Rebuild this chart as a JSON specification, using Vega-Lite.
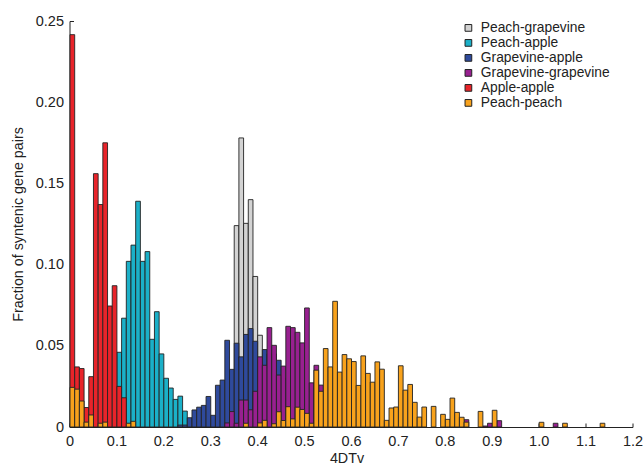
{
  "$schema": "https://vega.github.io/schema/vega-lite/v6.json",
  "width": 563,
  "height": 406,
  "autosize": {"type": "none"},
  "padding": {"left": 69.5, "top": 21, "right": 11.5, "bottom": 39},
  "config": {
    "view": {"stroke": null},
    "font": "Liberation Sans",
    "axis": {"grid": false, "domainColor": "#222", "tickColor": "#222", "labelColor": "#222", "titleColor": "#222", "labelFontSize": 14.5, "titleFontSize": 14.3, "titleFontWeight": "normal", "labelFont": "Liberation Sans", "titleFont": "Liberation Sans"},
    "legend": {"labelFont": "Liberation Sans"}
  },
  "data": {"values": [
    {"s":"Peach-grapevine","a":0.34,"b":0.35,"v":0.030},
    {"s":"Peach-grapevine","a":0.35,"b":0.36,"v":0.124},
    {"s":"Peach-grapevine","a":0.36,"b":0.37,"v":0.178},
    {"s":"Peach-grapevine","a":0.37,"b":0.38,"v":0.1254},
    {"s":"Peach-grapevine","a":0.38,"b":0.39,"v":0.140},
    {"s":"Peach-grapevine","a":0.39,"b":0.40,"v":0.0927},
    {"s":"Peach-grapevine","a":0.40,"b":0.41,"v":0.0565},
    {"s":"Peach-grapevine","a":0.41,"b":0.42,"v":0.030},

    {"s":"Peach-apple","a":0.10,"b":0.11,"v":0.046},
    {"s":"Peach-apple","a":0.11,"b":0.12,"v":0.067},
    {"s":"Peach-apple","a":0.12,"b":0.13,"v":0.102},
    {"s":"Peach-apple","a":0.13,"b":0.14,"v":0.112},
    {"s":"Peach-apple","a":0.14,"b":0.15,"v":0.139},
    {"s":"Peach-apple","a":0.15,"b":0.16,"v":0.102},
    {"s":"Peach-apple","a":0.16,"b":0.17,"v":0.108},
    {"s":"Peach-apple","a":0.17,"b":0.18,"v":0.054},
    {"s":"Peach-apple","a":0.18,"b":0.19,"v":0.071},
    {"s":"Peach-apple","a":0.19,"b":0.20,"v":0.045},
    {"s":"Peach-apple","a":0.20,"b":0.21,"v":0.030},
    {"s":"Peach-apple","a":0.21,"b":0.22,"v":0.024},
    {"s":"Peach-apple","a":0.22,"b":0.23,"v":0.017},
    {"s":"Peach-apple","a":0.23,"b":0.24,"v":0.019},
    {"s":"Peach-apple","a":0.24,"b":0.25,"v":0.0098},

    {"s":"Grapevine-apple","a":0.23,"b":0.24,"v":0.0012},
    {"s":"Grapevine-apple","a":0.24,"b":0.25,"v":0.0012},
    {"s":"Grapevine-apple","a":0.25,"b":0.26,"v":0.0057},
    {"s":"Grapevine-apple","a":0.26,"b":0.27,"v":0.0105},
    {"s":"Grapevine-apple","a":0.27,"b":0.28,"v":0.0122},
    {"s":"Grapevine-apple","a":0.28,"b":0.29,"v":0.0133},
    {"s":"Grapevine-apple","a":0.29,"b":0.30,"v":0.0188},
    {"s":"Grapevine-apple","a":0.30,"b":0.31,"v":0.0072},
    {"s":"Grapevine-apple","a":0.31,"b":0.32,"v":0.0257},
    {"s":"Grapevine-apple","a":0.32,"b":0.33,"v":0.0289},
    {"s":"Grapevine-apple","a":0.33,"b":0.34,"v":0.0534},
    {"s":"Grapevine-apple","a":0.34,"b":0.35,"v":0.0355},
    {"s":"Grapevine-apple","a":0.35,"b":0.36,"v":0.0516},
    {"s":"Grapevine-apple","a":0.36,"b":0.37,"v":0.0432},
    {"s":"Grapevine-apple","a":0.37,"b":0.38,"v":0.057},
    {"s":"Grapevine-apple","a":0.38,"b":0.39,"v":0.0606},
    {"s":"Grapevine-apple","a":0.39,"b":0.40,"v":0.0528},
    {"s":"Grapevine-apple","a":0.40,"b":0.41,"v":0.040},
    {"s":"Grapevine-apple","a":0.41,"b":0.42,"v":0.0477},
    {"s":"Grapevine-apple","a":0.42,"b":0.43,"v":0.045},
    {"s":"Grapevine-apple","a":0.43,"b":0.44,"v":0.045},
    {"s":"Grapevine-apple","a":0.44,"b":0.45,"v":0.0411},
    {"s":"Grapevine-apple","a":0.45,"b":0.46,"v":0.030},

    {"s":"Grapevine-grapevine","a":0.33,"b":0.34,"v":0.0025},
    {"s":"Grapevine-grapevine","a":0.34,"b":0.35,"v":0.0095},
    {"s":"Grapevine-grapevine","a":0.35,"b":0.36,"v":0.0023},
    {"s":"Grapevine-grapevine","a":0.36,"b":0.37,"v":0.0166},
    {"s":"Grapevine-grapevine","a":0.37,"b":0.38,"v":0.0166},
    {"s":"Grapevine-grapevine","a":0.38,"b":0.39,"v":0.0106},
    {"s":"Grapevine-grapevine","a":0.39,"b":0.40,"v":0.022},
    {"s":"Grapevine-grapevine","a":0.40,"b":0.41,"v":0.0432},
    {"s":"Grapevine-grapevine","a":0.41,"b":0.42,"v":0.038},
    {"s":"Grapevine-grapevine","a":0.42,"b":0.43,"v":0.0612},
    {"s":"Grapevine-grapevine","a":0.43,"b":0.44,"v":0.0503},
    {"s":"Grapevine-grapevine","a":0.44,"b":0.45,"v":0.032},
    {"s":"Grapevine-grapevine","a":0.45,"b":0.46,"v":0.0375},
    {"s":"Grapevine-grapevine","a":0.46,"b":0.47,"v":0.062},
    {"s":"Grapevine-grapevine","a":0.47,"b":0.48,"v":0.0612},
    {"s":"Grapevine-grapevine","a":0.48,"b":0.49,"v":0.0583},
    {"s":"Grapevine-grapevine","a":0.49,"b":0.50,"v":0.0518},
    {"s":"Grapevine-grapevine","a":0.50,"b":0.51,"v":0.0733},
    {"s":"Grapevine-grapevine","a":0.51,"b":0.52,"v":0.0272},
    {"s":"Grapevine-grapevine","a":0.52,"b":0.53,"v":0.038},
    {"s":"Grapevine-grapevine","a":0.53,"b":0.54,"v":0.0258},
    {"s":"Grapevine-grapevine","a":0.54,"b":0.55,"v":0.020},
    {"s":"Grapevine-grapevine","a":0.84,"b":0.85,"v":0.0045},
    {"s":"Grapevine-grapevine","a":0.88,"b":0.89,"v":0.0006},
    {"s":"Grapevine-grapevine","a":0.89,"b":0.90,"v":0.0023},
    {"s":"Grapevine-grapevine","a":0.91,"b":0.92,"v":0.0039},
    {"s":"Grapevine-grapevine","a":1.03,"b":1.04,"v":0.0023},

    {"s":"Apple-apple","a":0.00,"b":0.01,"v":0.2416},
    {"s":"Apple-apple","a":0.01,"b":0.02,"v":0.037},
    {"s":"Apple-apple","a":0.02,"b":0.03,"v":0.036},
    {"s":"Apple-apple","a":0.03,"b":0.04,"v":0.012},
    {"s":"Apple-apple","a":0.04,"b":0.05,"v":0.031},
    {"s":"Apple-apple","a":0.05,"b":0.06,"v":0.156},
    {"s":"Apple-apple","a":0.06,"b":0.07,"v":0.137},
    {"s":"Apple-apple","a":0.07,"b":0.08,"v":0.175},
    {"s":"Apple-apple","a":0.08,"b":0.09,"v":0.0745},
    {"s":"Apple-apple","a":0.09,"b":0.10,"v":0.087},
    {"s":"Apple-apple","a":0.10,"b":0.11,"v":0.025},
    {"s":"Apple-apple","a":0.11,"b":0.12,"v":0.018},

    {"s":"Peach-peach","a":0.00,"b":0.01,"v":0.0244},
    {"s":"Peach-peach","a":0.01,"b":0.02,"v":0.0233},
    {"s":"Peach-peach","a":0.02,"b":0.03,"v":0.016},
    {"s":"Peach-peach","a":0.03,"b":0.04,"v":0.003},
    {"s":"Peach-peach","a":0.04,"b":0.05,"v":0.0074},
    {"s":"Peach-peach","a":0.06,"b":0.07,"v":0.0023},
    {"s":"Peach-peach","a":0.07,"b":0.08,"v":0.003},
    {"s":"Peach-peach","a":0.12,"b":0.13,"v":0.0023},
    {"s":"Peach-peach","a":0.13,"b":0.14,"v":0.0035},
    {"s":"Peach-peach","a":0.37,"b":0.38,"v":0.0023},
    {"s":"Peach-peach","a":0.40,"b":0.41,"v":0.0025},
    {"s":"Peach-peach","a":0.41,"b":0.42,"v":0.0041},
    {"s":"Peach-peach","a":0.43,"b":0.44,"v":0.002},
    {"s":"Peach-peach","a":0.44,"b":0.45,"v":0.0094},
    {"s":"Peach-peach","a":0.45,"b":0.46,"v":0.004},
    {"s":"Peach-peach","a":0.46,"b":0.47,"v":0.0125},
    {"s":"Peach-peach","a":0.47,"b":0.48,"v":0.005},
    {"s":"Peach-peach","a":0.48,"b":0.49,"v":0.0122},
    {"s":"Peach-peach","a":0.49,"b":0.50,"v":0.0108},
    {"s":"Peach-peach","a":0.50,"b":0.51,"v":0.0084},
    {"s":"Peach-peach","a":0.51,"b":0.52,"v":0.0023},
    {"s":"Peach-peach","a":0.52,"b":0.53,"v":0.035},
    {"s":"Peach-peach","a":0.53,"b":0.54,"v":0.022},
    {"s":"Peach-peach","a":0.54,"b":0.55,"v":0.0483},
    {"s":"Peach-peach","a":0.55,"b":0.56,"v":0.037},
    {"s":"Peach-peach","a":0.56,"b":0.57,"v":0.0774},
    {"s":"Peach-peach","a":0.57,"b":0.58,"v":0.0338},
    {"s":"Peach-peach","a":0.58,"b":0.59,"v":0.0446},
    {"s":"Peach-peach","a":0.59,"b":0.60,"v":0.042},
    {"s":"Peach-peach","a":0.60,"b":0.61,"v":0.0403},
    {"s":"Peach-peach","a":0.61,"b":0.62,"v":0.0256},
    {"s":"Peach-peach","a":0.62,"b":0.63,"v":0.0438},
    {"s":"Peach-peach","a":0.63,"b":0.64,"v":0.033},
    {"s":"Peach-peach","a":0.64,"b":0.65,"v":0.0276},
    {"s":"Peach-peach","a":0.65,"b":0.66,"v":0.0401},
    {"s":"Peach-peach","a":0.66,"b":0.67,"v":0.0356},
    {"s":"Peach-peach","a":0.67,"b":0.68,"v":0.0041},
    {"s":"Peach-peach","a":0.68,"b":0.69,"v":0.0117},
    {"s":"Peach-peach","a":0.69,"b":0.70,"v":0.0123},
    {"s":"Peach-peach","a":0.70,"b":0.71,"v":0.0377},
    {"s":"Peach-peach","a":0.71,"b":0.72,"v":0.0227},
    {"s":"Peach-peach","a":0.72,"b":0.73,"v":0.0262},
    {"s":"Peach-peach","a":0.73,"b":0.74,"v":0.0152},
    {"s":"Peach-peach","a":0.74,"b":0.75,"v":0.0061},
    {"s":"Peach-peach","a":0.75,"b":0.76,"v":0.0123},
    {"s":"Peach-peach","a":0.77,"b":0.78,"v":0.0127},
    {"s":"Peach-peach","a":0.79,"b":0.80,"v":0.0078},
    {"s":"Peach-peach","a":0.80,"b":0.81,"v":0.0047},
    {"s":"Peach-peach","a":0.81,"b":0.82,"v":0.0178},
    {"s":"Peach-peach","a":0.82,"b":0.83,"v":0.009},
    {"s":"Peach-peach","a":0.83,"b":0.84,"v":0.006},
    {"s":"Peach-peach","a":0.84,"b":0.85,"v":0.003},
    {"s":"Peach-peach","a":0.87,"b":0.88,"v":0.0096},
    {"s":"Peach-peach","a":0.90,"b":0.91,"v":0.0103},
    {"s":"Peach-peach","a":1.00,"b":1.01,"v":0.0029},
    {"s":"Peach-peach","a":1.05,"b":1.06,"v":0.0023},
    {"s":"Peach-peach","a":1.13,"b":1.14,"v":0.0023}
  ]},
  "mark": {"type": "bar", "binSpacing": 0, "stroke": "#222", "strokeWidth": 0.9},
  "encoding": {
    "x": {"field": "a", "type": "quantitative", "bin": {"binned": true},
      "scale": {"domain": [0, 1.2], "nice": false},
      "axis": {"values": [0,0.1,0.2,0.3,0.4,0.5,0.6,0.7,0.8,0.9,1.0,1.1,1.2], "labelExpr": "datum.value == 0 ? '0' : format(datum.value, '.1f')", "tickSize": -4, "labelPadding": 11, "labelFlush": false, "title": "4DTv", "titleX": 277, "titleY": 35, "titleBaseline": "alphabetic", "titleAnchor": null, "titleAlign": "center"}},
    "x2": {"field": "b"},
    "y": {"field": "v", "type": "quantitative", "stack": null,
      "scale": {"domain": [0, 0.25], "nice": false},
      "axis": {"values": [0,0.05,0.1,0.15,0.2,0.25], "labelExpr": "datum.value == 0 ? '0' : format(datum.value, '.2f')", "tickSize": -4, "labelPadding": 10, "labelFlush": false, "title": "Fraction of syntenic gene pairs", "titleX": -47.5, "titleY": 203, "titleBaseline": "alphabetic", "titleAlign": "center", "titleAngle": -90}},
    "color": {"field": "s", "type": "nominal",
      "scale": {"domain": ["Peach-grapevine","Peach-apple","Grapevine-apple","Grapevine-grapevine","Apple-apple","Peach-peach"],
        "range": ["#d3d3d3","#1bb0c8","#2f4a9c","#982090","#e8242a","#f8a21c"]},
      "legend": {"title": null, "orient": "none", "legendX": 392, "legendY": 0, "padding": 0, "symbolType": "square", "symbolSize": 45, "symbolStrokeColor": "#222", "symbolStrokeWidth": 1, "symbolOpacity": 1, "labelFontSize": 13.8, "labelColor": "#222", "labelOffset": 5.5, "rowPadding": 0, "labelLimit": 300}}
  }
}
